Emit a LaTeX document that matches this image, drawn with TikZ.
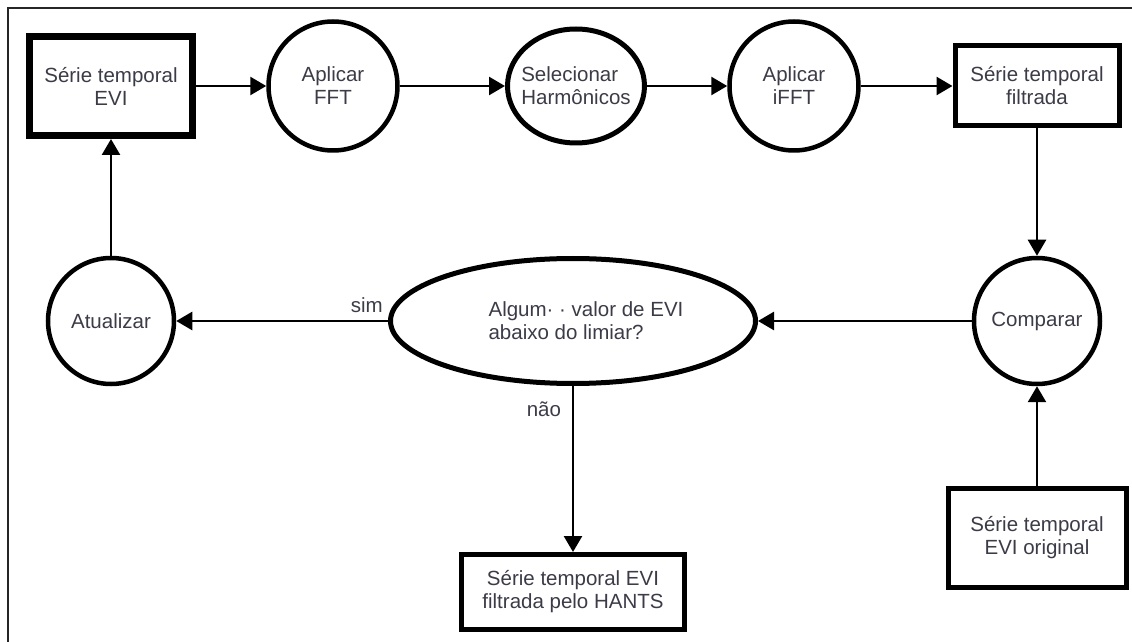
\documentclass[tikz,border=0pt]{standalone}
\usepackage{fontspec}
\setmainfont{Liberation Sans}
\usepackage{tikz}
\usetikzlibrary{arrows.meta,shapes.geometric}
\definecolor{textgray}{RGB}{60,60,72}

\begin{document}
\begin{tikzpicture}[x=0.5pt, y=-0.5pt,
			font=\fontsize{10.25}{11.5}\selectfont,
			box_style/.style={rectangle,draw=black,line width=2.5pt,fill=white,inner sep=0pt,align=center,text=textgray},
			circle_style/.style={circle,draw=black,line width=2.25pt,fill=white,inner sep=0pt,align=center,text=textgray},
			ellipse_style/.style={ellipse,draw=black,line width=2.5pt,fill=white,align=left,text=textgray},
			edge_style/.style={draw=black,line width=1.3pt,-{Triangle[length=8pt,width=9pt]}},
			label_style/.style={text=textgray}]
			\useasboundingbox (0,0) rectangle (1132,642);
			\draw[line width=1pt, black!85] (8,642) -- (8,8) -- (1132,8);
			\node[box_style, line width=3.5pt, minimum width=81.5pt, minimum height=49.5pt] (serie) at (111,86) {Série temporal\\EVI};
			\node[circle_style, minimum size=64.5pt] (fft) at (333,86) {Aplicar\\FFT};
			\node[ellipse_style, inner sep=-10pt, minimum width=68.5pt, minimum height=57pt] (harm) at (576,86) {Selecionar\\Harmônicos};
			\node[circle_style, minimum size=64.5pt] (ifft) at (794,86) {Aplicar\\iFFT};
			\node[box_style, minimum width=82pt, minimum height=40pt] (filt) at (1037,86) {Série temporal\\filtrada};
			\node[circle_style, minimum size=63pt] (comp) at (1037,321) {Comparar};
			\node[ellipse_style, inner sep=0pt, minimum width=182.5pt, minimum height=62.5pt] (quest) at (573,321) {\hspace*{13pt}Algum· · valor de EVI\\\hspace*{13pt}abaixo do limiar?};
			\node[circle_style, minimum size=63pt] (atual) at (111,321) {Atualizar};
			\node[box_style, minimum width=111.5pt, minimum height=37.5pt] (hants) at (573,592) {Série temporal EVI\\filtrada pelo HANTS};
			\node[box_style, minimum width=89pt, minimum height=49.5pt] (orig) at (1037,538) {Série temporal\\EVI original};
			\draw[edge_style]  (serie) edge (fft);
			\draw[edge_style]  (fft) edge (harm);
			\draw[edge_style]  (harm) edge (ifft);
			\draw[edge_style]  (ifft) edge (filt);
			\draw[edge_style]  (filt) edge (comp);
			\draw[edge_style]  (orig) edge (comp);
			\draw[edge_style]  (comp) edge (quest);
			\draw[edge_style]  (quest) edge node[label_style, above, pos=0.1]{sim} (atual);
			\draw[edge_style]  (quest) edge node[label_style, left=2pt, pos=0.14]{não} (hants);
			\draw[edge_style]  (atual) edge (serie);
			\end{tikzpicture}
\end{document}
